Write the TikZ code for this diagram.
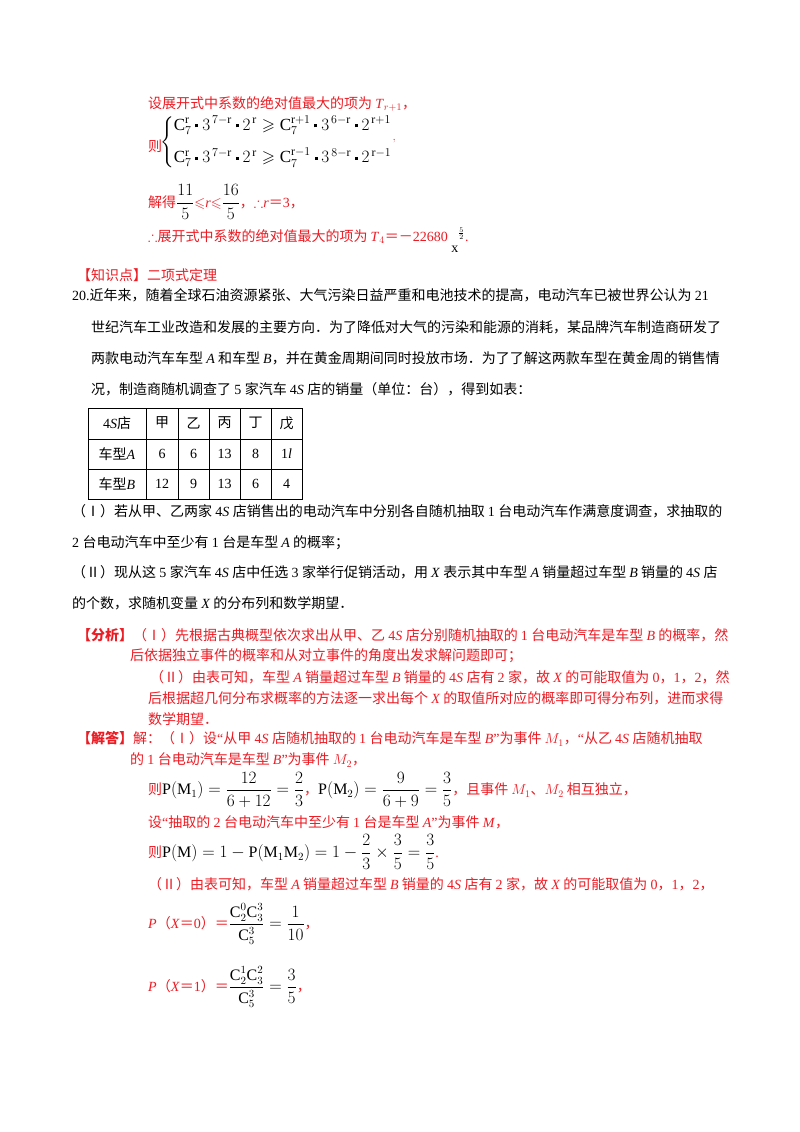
\documentclass[tikz,border=0pt]{standalone}
\usepackage{amsmath,amssymb}
\usepackage{fontspec}
\setmainfont{Liberation Serif}
\newfontfamily\cjk{Noto Sans CJK SC}
\XeTeXinterchartokenstate=1
\newXeTeXintercharclass\cjkclass
\newcount\cc
\def\setrange#1#2{\cc=#1\relax\loop\XeTeXcharclass\cc=\cjkclass\advance\cc by 1 \ifnum\cc<#2\repeat}
\setrange{"4E00}{"A000}
\setrange{"3000}{"3040}
\setrange{"FF00}{"FFF0}
\setrange{"2160}{"2170}
\XeTeXinterchartoks 0 \cjkclass = {\cjk}
\XeTeXinterchartoks 4095 \cjkclass = {\cjk}
\XeTeXinterchartoks \cjkclass 0 = {\rmfamily}
\XeTeXinterchartoks 4095 0 = {\rmfamily}
\definecolor{rd}{RGB}{236,28,36}
\newcommand\ii[1]{\textit{#1}}
\newcommand\bm[1]{{\color{black}\fontsize{16}{18}\selectfont #1}}
\newcommand\sq{\mathbin{\vcenter{\hbox{\rule{3pt}{3pt}}}}}
\begin{document}
\begin{tikzpicture}[x=1pt,y=-1pt,
  every node/.style={font=\cjk\fontsize{14}{17}\selectfont},
  txt/.style={anchor=west,inner sep=0pt},
  rt/.style={txt,text=rd},
  bt/.style={txt,text=black},
  cell/.style={inner sep=0pt,text=black}]
\path[use as bounding box,fill=white] (0,0) rectangle (800,1132);

\node[rt] (l1) at (148,104) {设展开式中系数的绝对值最大的项为 \ii{T}$_{r+1}$，};
\node[rt] (ze) at (148,146) {则};
\node[bt,font=\fontsize{17}{19}\selectfont] (sys) at (160,142) {$\left\{\begin{array}{@{}l@{}}\mathrm{C}_7^{\mathrm{r}}\sq 3^{\,7-\mathrm{r}}\sq 2^{\,\mathrm{r}}\geqslant\mathrm{C}_7^{\mathrm{r}+1}\sq 3^{\,6-\mathrm{r}}\sq 2^{\,\mathrm{r}+1}\\[12pt]
\mathrm{C}_7^{\mathrm{r}}\sq 3^{\,7-\mathrm{r}}\sq 2^{\,\mathrm{r}}\geqslant\mathrm{C}_7^{\mathrm{r}-1}\sq 3^{\,8-\mathrm{r}}\sq 2^{\,\mathrm{r}-1}\end{array}\right.$\textcolor{rd}{$^{,}$}};
\node[rt] (l3) at (148,202) {解得\bm{$\dfrac{11}{5}$}$\leqslant$\ii{r}$\leqslant$\bm{$\dfrac{16}{5}$}，$\therefore$\ii{r}＝3，};
\node[rt] (l4) at (148,240) {$\therefore$展开式中系数的绝对值最大的项为 \ii{T}$_4$＝－22680 {\color{black}\raisebox{-11pt}{x}$^{\frac{5}{2}}$}.};

\node[rt] (kp) at (77,275) {【知识点】二项式定理};
\node[bt] (p1) at (72,295) {20.近年来，随着全球石油资源紧张、大气污染日益严重和电池技术的提高，电动汽车已被世界公认为 21};
\node[bt] (p2) at (91,327) {世纪汽车工业改造和发展的主要方向．为了降低对大气的污染和能源的消耗，某品牌汽车制造商研发了};
\node[bt] (p3) at (91,358) {两款电动汽车车型 \ii{A} 和车型 \ii{B}，并在黄金周期间同时投放市场．为了了解这两款车型在黄金周的销售情};
\node[bt] (p4) at (91,389) {况，制造商随机调查了 5 家汽车 4\ii{S} 店的销量（单位：台），得到如表：};

% table
\draw[black,line width=1pt] (88,408) rectangle (302,499);
\foreach \x in {146,178,209,240,271} \draw[black,line width=0.8pt] (\x,408) -- (\x,499);
\foreach \y in {439,469} \draw[black,line width=0.8pt] (88,\y) -- (302,\y);
\node[cell] (h0) at (117,423) {\rmfamily 4\ii{S}店};
\node[cell] (h1) at (162,423) {甲};
\node[cell] (h2) at (193.5,423) {乙};
\node[cell] (h3) at (224.5,423) {丙};
\node[cell] (h4) at (255.5,423) {丁};
\node[cell] (h5) at (286.5,423) {戊};
\node[cell] (a0) at (117,454) {车型\ii{A}};
\node[cell] (a1) at (162,454) {\rmfamily 6};
\node[cell] (a2) at (193.5,454) {\rmfamily 6};
\node[cell] (a3) at (224.5,454) {\rmfamily 13};
\node[cell] (a4) at (255.5,454) {\rmfamily 8};
\node[cell] (a5) at (286.5,454) {\rmfamily 1\ii{l}};
\node[cell] (b0) at (117,484) {车型\ii{B}};
\node[cell] (b1) at (162,484) {\rmfamily 12};
\node[cell] (b2) at (193.5,484) {\rmfamily 9};
\node[cell] (b3) at (224.5,484) {\rmfamily 13};
\node[cell] (b4) at (255.5,484) {\rmfamily 6};
\node[cell] (b5) at (286.5,484) {\rmfamily 4};

\node[bt] (q1) at (72,511) {（Ⅰ）若从甲、乙两家 4\ii{S} 店销售出的电动汽车中分别各自随机抽取 1 台电动汽车作满意度调查，求抽取的};
\node[bt] (q2) at (72,543) {\rmfamily 2 台电动汽车中至少有 1 台是车型 \ii{A} 的概率；};
\node[bt] (q3) at (72,572) {（Ⅱ）现从这 5 家汽车 4\ii{S} 店中任选 3 家举行促销活动，用 \ii{X} 表示其中车型 \ii{A} 销量超过车型 \ii{B} 销量的 4\ii{S} 店};
\node[bt] (q4) at (72,603) {的个数，求随机变量 \ii{X} 的分布列和数学期望．};

\node[rt] (fx) at (77,635) {\textbf{【分析】}（Ⅰ）先根据古典概型依次求出从甲、乙 4\ii{S} 店分别随机抽取的 1 台电动汽车是车型 \ii{B} 的概率，然};
\node[rt] (f2) at (130,656) {后依据独立事件的概率和从对立事件的角度出发求解问题即可；};
\node[rt] (f3) at (150,677) {（Ⅱ）由表可知，车型 \ii{A} 销量超过车型 \ii{B} 销量的 4\ii{S} 店有 2 家，故 \ii{X} 的可能取值为 0，1，2，然};
\node[rt] (f4) at (148,698) {后根据超几何分布求概率的方法逐一求出每个 \ii{X} 的取值所对应的概率即可得分布列，进而求得};
\node[rt] (f5) at (148,719) {数学期望．};

\node[rt] (jd) at (77,739) {\textbf{【解答】}解：（Ⅰ）设“从甲 4\ii{S} 店随机抽取的 1 台电动汽车是车型 \ii{B}”为事件 $M_1$，“从乙 4\ii{S} 店随机抽取};
\node[rt] (j2) at (130,760) {的 1 台电动汽车是车型 \ii{B}”为事件 $M_2$，};
\node[rt] (j3) at (148,790) {则\bm{$\mathrm{P}(\mathrm{M}_1)=\dfrac{12}{6+12}=\dfrac{2}{3}$}，\bm{$\mathrm{P}(\mathrm{M}_2)=\dfrac{9}{6+9}=\dfrac{3}{5}$}，且事件 $M_1$、$M_2$ 相互独立，};
\node[rt] (j4) at (148,822) {设“抽取的 2 台电动汽车中至少有 1 台是车型 \ii{A}”为事件 \ii{M}，};
\node[rt] (j5) at (148,852) {则\bm{$\mathrm{P}(\mathrm{M})=1-\mathrm{P}(\mathrm{M}_1\mathrm{M}_2)=1-\dfrac{2}{3}\times\dfrac{3}{5}=\dfrac{3}{5}$}.};
\node[rt] (j6) at (148,884) {（Ⅱ）由表可知，车型 \ii{A} 销量超过车型 \ii{B} 销量的 4\ii{S} 店有 2 家，故 \ii{X} 的可能取值为 0，1，2，};
\node[rt] (j7) at (148,924) {\ii{P}（\ii{X}＝0）＝\bm{$\dfrac{\mathrm{C}_2^0\mathrm{C}_3^3}{\mathrm{C}_5^3}=\dfrac{1}{10}$}，};
\node[rt] (j8) at (148,987) {\ii{P}（\ii{X}＝1）＝\bm{$\dfrac{\mathrm{C}_2^1\mathrm{C}_3^2}{\mathrm{C}_5^3}=\dfrac{3}{5}$}，};
\end{tikzpicture}
\end{document}
